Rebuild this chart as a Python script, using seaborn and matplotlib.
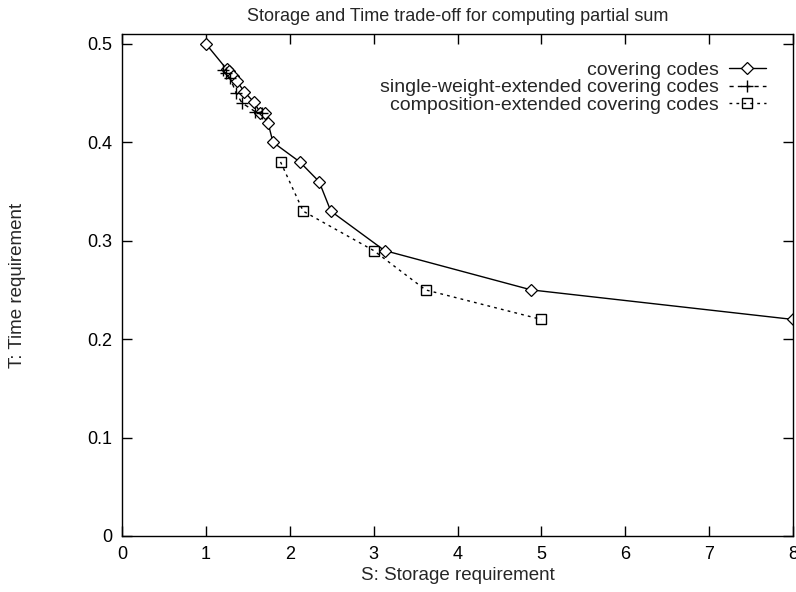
import numpy as np
import pandas as pd
import matplotlib
matplotlib.use("Agg")
import matplotlib.pyplot as plt
import seaborn as sns

# covering codes
cov_s = [1.00, 1.25, 1.28, 1.32, 1.37, 1.46, 1.57, 1.65, 1.71, 1.74, 1.80, 2.12, 2.35, 2.49, 3.13, 4.88, 8.00]
cov_t = [0.500, 0.474, 0.472, 0.467, 0.462, 0.451, 0.441, 0.430, 0.430, 0.420, 0.400, 0.380, 0.360, 0.330, 0.290, 0.250, 0.220]

# single-weight-extended covering codes
sw_s = [1.20, 1.24, 1.29, 1.36, 1.43, 1.59, 1.67]
sw_t = [0.473, 0.470, 0.465, 0.450, 0.440, 0.431, 0.430]

# composition-extended covering codes
comp_s = [1.89, 2.16, 3.00, 3.62, 5.00]
comp_t = [0.380, 0.330, 0.290, 0.250, 0.220]

labels = ["covering codes", "single-weight-extended covering codes", "composition-extended covering codes"]

sns.set_style("ticks")
plt.rcParams["font.family"] = ["Liberation Sans", "DejaVu Sans"]

fig = plt.figure(figsize=(7.96, 5.92), dpi=100)
ax = fig.add_axes([0.1533, 0.0946, 0.8429, 0.848])

sns.lineplot(x=cov_s, y=cov_t, ax=ax, color="black", lw=1, marker="D", ms=6,
             mfc="white", mec="black", mew=0.9, estimator=None, sort=False, label=labels[0])
sns.lineplot(x=sw_s, y=sw_t, ax=ax, color="black", lw=1, linestyle=(0, (3, 3)), marker="+", ms=9,
             mec="black", mew=1, estimator=None, sort=False, label=labels[1])
sns.lineplot(x=comp_s, y=comp_t, ax=ax, color="black", lw=1, linestyle=(0, (2, 3)), marker="s", ms=7,
             mfc="none", mec="black", mew=1, estimator=None, sort=False, label=labels[2])

ax.set_xlim(0, 8)
ax.set_ylim(0, 0.51)
ax.set_xticks(range(0, 9))
ax.set_yticks([0, 0.1, 0.2, 0.3, 0.4, 0.5])
ax.set_yticklabels(["0", "0.1", "0.2", "0.3", "0.4", "0.5"])
ax.tick_params(direction="in", top=True, right=True, length=7, width=1, labelsize=13, pad=7, colors="black")
for sp in ax.spines.values():
    sp.set_visible(True)
    sp.set_linewidth(1)
    sp.set_color("black")

ax.set_xlabel("S: Storage requirement", fontsize=13.5, labelpad=3)
ax.set_ylabel("T: Time requirement", fontsize=13.5, labelpad=44)
ax.set_title("Storage and Time trade-off for computing partial sum", fontsize=13, pad=9)

ax.legend(loc="upper right", frameon=False, markerfirst=False, fontsize=14, handlelength=1.9,
          labelspacing=0.0, borderaxespad=1.0, handletextpad=0.5)

fig.savefig("out.png", dpi=100)
